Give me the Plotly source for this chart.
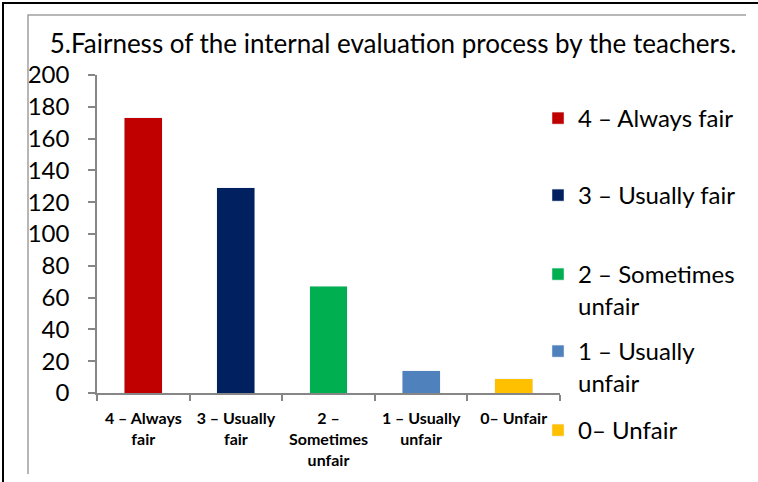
import plotly.graph_objects as go

# data
categories = ["4 – Always fair", "3 – Usually fair", "2 – Sometimes unfair",
              "1 – Usually unfair", "0– Unfair"]
counts = [173, 129, 67, 14, 9]
tick_text = ["4 – Always<br>fair", "3 – Usually<br>fair", "2 –<br>Sometimes<br>unfair",
             "1 – Usually<br>unfair", "0– Unfair"]
legend_text = ["4 – Always fair", "3 – Usually fair", "2 – Sometimes<br>unfair",
               "1 – Usually<br>unfair", "0– Unfair"]
colors = ["#C00000", "#002060", "#00B050", "#4F81BD", "#FFC000"]

W, H = 758, 482
L, R, T, B = 97, 198, 75, 89
PW, PH = W - L - R, H - T - B
FONT = "Lato"


def px_x(x):  # pixel -> paper
    return (x - L) / PW


def px_y(y):
    return (H - B - y) / PH


fig = go.Figure()
legend_names = ["legend", "legend2", "legend3", "legend4", "legend5"]
legend_tops = [96, 173, 252, 329, 408]
for i in range(len(categories)):
    fig.add_trace(go.Bar(x=[categories[i]], y=[counts[i]], name=legend_text[i],
                         marker_color=colors[i], legend=legend_names[i],
                         showlegend=True))

legends = {}
for i, ln in enumerate(legend_names):
    legends[ln] = dict(x=px_x(538), xanchor="left", y=px_y(legend_tops[i]), yanchor="top",
                       valign="top", bgcolor="rgba(0,0,0,0)",
                       font=dict(family=FONT, size=24, color="#000000"))
fig.update_layout(**legends)

grey = "#868686"
fig.update_layout(
    width=W, height=H,
    margin=dict(l=L, r=R, t=T, b=B, autoexpand=False),
    paper_bgcolor="white", plot_bgcolor="white",
    barmode="stack", bargap=0.59, showlegend=True,
    font=dict(family=FONT, color="#000000"),
    title=dict(text="5.Fairness of the internal evaluation process by the teachers.",
               xref="container", x=393 / W, xanchor="center",
               yref="container", y=1 - 44 / H, yanchor="middle",
               font=dict(family=FONT, size=26, color="#000000")),
    xaxis=dict(tickvals=categories, ticktext=["<b>%s</b>" % t for t in tick_text],
               showline=True, linecolor=grey, linewidth=1.5, tickangle=0,
               ticks="outside", tickson="boundaries", ticklen=6, tickcolor=grey,
               tickwidth=1.5, showgrid=False, automargin=False, ticklabelstandoff=10,
               tickfont=dict(family=FONT, size=16, color="#000000")),
    yaxis=dict(range=[0, 200], dtick=20, showline=True, linecolor=grey, linewidth=1.5,
               ticks="outside", ticklen=7, tickcolor=grey, tickwidth=1.5,
               showgrid=False, zeroline=False, ticklabelstandoff=14, automargin=False,
               tickfont=dict(family=FONT, size=24, color="#000000")),
    shapes=[
        dict(type="path", xref="paper", yref="paper", layer="above",
             path="M %f %f L %f %f L %f %f" % (px_x(3), px_y(482), px_x(3), px_y(3),
                                               px_x(758), px_y(3)),
             line=dict(color="#000000", width=2)),
        dict(type="path", xref="paper", yref="paper", layer="above",
             path="M %f %f L %f %f L %f %f" % (px_x(28), px_y(474), px_x(28), px_y(15),
                                               px_x(746), px_y(15)),
             line=dict(color="#A0A0A0", width=1.5)),
    ],
)

# drop the browser's default 8px body margin so the page lines up with the window
fig.write_html("out.html", config={"displayModeBar": False},
               post_script="document.body.style.margin='0';")
